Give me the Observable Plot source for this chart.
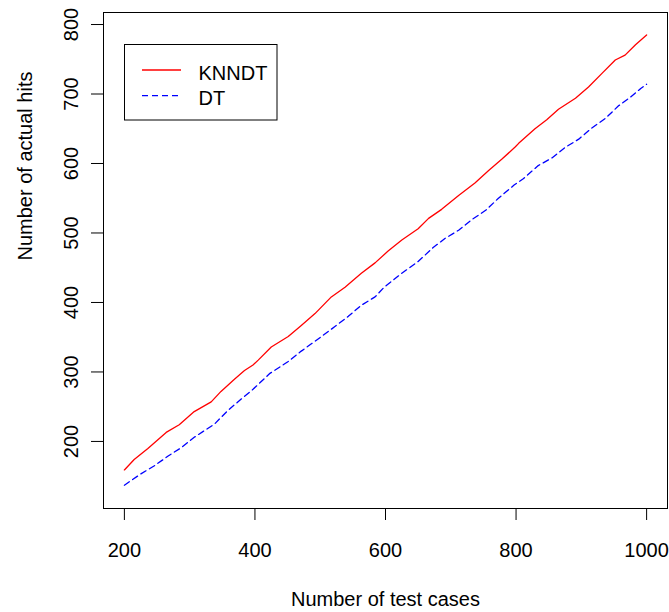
<!DOCTYPE html>
<html><head><meta charset="utf-8">
<script src="https://cdn.jsdelivr.net/npm/d3@7"></script>
<script src="https://cdn.jsdelivr.net/npm/@observablehq/plot@0.6"></script>
<style>html,body{margin:0;padding:0;background:#fff}</style>
</head><body><div id="chart"></div>
<script>
const seriesNames = ["KNNDT", "DT"];
const seriesColors = ["#ff0000", "#0000ff"];
const knnCases = [200,215,236,264,284,307,333,348,369,384,397,405,425,451,471,492,517,538,563,584,604,625,650,666,686,712,737,758,778,799,804,829,847,865,891,911,932,952,967,983,1000];
const knnHits  = [159,174,190,213,224,243,257,272,290,302,310,317,336,351,367,384,408,422,442,457,474,490,506,521,534,554,572,590,606,624,629,650,663,678,694,710,730,749,756,771,785];
const dtCases = [200,223,246,267,287,307,338,359,379,397,423,451,471,502,522,543,563,584,598,625,650,673,691,712,732,754,773,797,811,834,855,875,896,916,937,957,976,991,1000];
const dtHits  = [137,152,165,179,191,206,225,245,261,275,298,315,330,351,365,380,396,408,422,442,459,479,492,504,519,533,550,569,578,597,608,623,635,651,665,683,696,708,714];
const xTicks = [200, 400, 600, 800, 1000];
const yTicks = [200, 300, 400, 500, 600, 700, 800];
const xLabel = "Number of test cases";
const yLabel = "Number of actual hits";

const rows = [
  ...knnCases.map((c, i) => ({series: seriesNames[0], cases: c, hits: knnHits[i]})),
  ...dtCases.map((c, i) => ({series: seriesNames[1], cases: c, hits: dtHits[i]}))
];

const font = "'Liberation Sans', Arial, Helvetica, sans-serif";
const fs = 20;

const chart = Plot.plot({
  width: 669, height: 612,
  marginLeft: 103, marginRight: 2, marginTop: 12, marginBottom: 104,
  style: {fontFamily: font, fontSize: fs + "px", background: "white", color: "black", overflow: "visible"},
  x: {domain: [168, 1032], axis: null},
  y: {domain: [103.5, 817.3], axis: null},
  marks: [
    Plot.frame({stroke: "black", strokeWidth: 1}),
    Plot.axisX({ticks: xTicks, tickSize: 12, tickPadding: 22, tickFormat: d => String(d), fontSize: fs, label: null, stroke: "black"}),
    Plot.axisY({ticks: yTicks, tickSize: 12, tickFormat: () => "", label: null, stroke: "black"}),
    Plot.text(yTicks, {y: d => d, frameAnchor: "left", text: d => String(d), rotate: -90, dx: -31.5, fontSize: fs, textAnchor: "middle", lineAnchor: "middle", fill: "black"}),
    Plot.text([xLabel], {frameAnchor: "bottom", text: d => d, dy: 91, fontSize: fs, lineAnchor: "middle", fill: "black"}),
    Plot.text([yLabel], {frameAnchor: "left", text: d => d, rotate: -90, dx: -78, fontSize: fs, lineAnchor: "middle", fill: "black"}),
    Plot.line(rows.filter(d => d.series === seriesNames[0]), {x: "cases", y: "hits", stroke: seriesColors[0], strokeWidth: 1.3}),
    Plot.line(rows.filter(d => d.series === seriesNames[1]), {x: "cases", y: "hits", stroke: seriesColors[1], strokeWidth: 1.3, strokeDasharray: "6,4"})
  ]
});

// legend (top-left, inside plot)
const svg = d3.select(chart);
const lg = svg.append("g").attr("font-family", font).attr("font-size", fs).attr("text-anchor", "start");
lg.append("rect").attr("x", 124.5).attr("y", 44.5).attr("width", 152.5).attr("height", 75.5)
  .attr("fill", "white").attr("stroke", "black").attr("stroke-width", 1);
const legendRows = [{y: 70, dash: null}, {y: 95.7, dash: "6,4"}];
seriesNames.forEach((name, i) => {
  const r = legendRows[i];
  const ln = lg.append("line").attr("x1", 142).attr("x2", 181).attr("y1", r.y).attr("y2", r.y)
    .attr("stroke", seriesColors[i]).attr("stroke-width", 1.3);
  if (r.dash) ln.attr("stroke-dasharray", r.dash);
  lg.append("text").attr("x", 198.5).attr("y", r.y + 9.5).attr("fill", "black")
    .attr("text-anchor", "start").text(name);
});

document.getElementById("chart").appendChild(chart);
</script>
</body></html>
